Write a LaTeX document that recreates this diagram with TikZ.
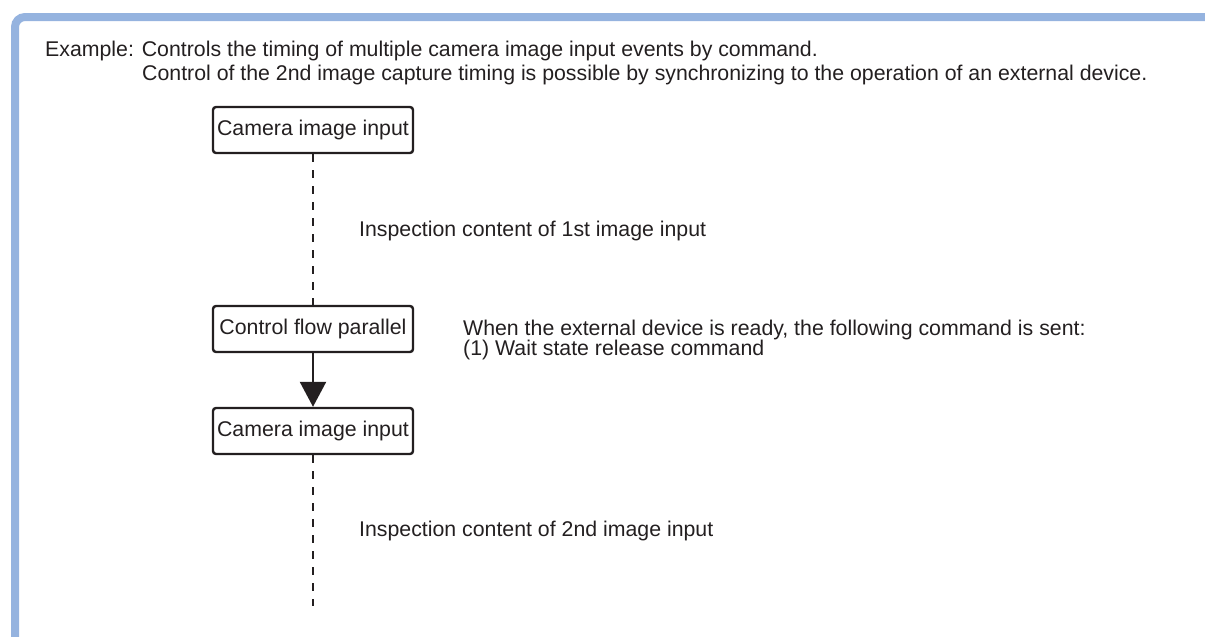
\documentclass[tikz,border=0pt]{standalone}
\usepackage{fontspec}
\setmainfont{Liberation Sans}
\usetikzlibrary{arrows.meta}
\definecolor{frameblue}{HTML}{95B3DF}
\definecolor{ink}{HTML}{231F20}
\tikzset{
  stepbox/.style={draw=ink, line width=2.4pt, rounded corners=3pt, minimum width=200pt, minimum height=46pt, inner sep=0pt, text=ink, font=\fontsize{21.3}{24}\selectfont},
  lbl/.style={anchor=base west, inner sep=0pt, text=ink, font=\fontsize{21.3}{24}\selectfont},
  dashconn/.style={draw=ink, line width=2.6pt, dash pattern=on 8pt off 8pt},
}
\begin{document}
\begin{tikzpicture}[x=1pt,y=-1pt]
\useasboundingbox (0,0) rectangle (1205,637);
\begin{scope}
\clip (0,0) rectangle (1205,637);
\draw[frameblue, line width=8pt, rounded corners=10pt] (15,700) -- (15,17) -- (1300,17);
\end{scope}
\node[lbl] (h1) at (45,56) {Example: Controls the timing of multiple camera image input events by command.};
\node[lbl] (h2) at (142,80) {Control of the 2nd image capture timing is possible by synchronizing to the operation of an external device.};
\node[stepbox] (b1) at (313,130) {Camera image input};
\node[stepbox] (b2) at (313,329) {Control flow parallel};
\node[stepbox] (b3) at (313,431) {Camera image input};
\coordinate (end) at (313,606);
\draw[dashconn] (b1.south) -- (b2.north);
\draw[dashconn] (b3.south) -- (end);
\draw[ink, line width=2.4pt, -{Triangle[length=25pt,width=26pt]}] (b2.south) -- (b3.north);
\node[lbl] (t1) at (359,236) {Inspection content of 1st image input};
\node[lbl] (t2) at (463,335) {When the external device is ready, the following command is sent:};
\node[lbl] (t3) at (463,355) {(1) Wait state release command};
\node[lbl] (t4) at (359,536) {Inspection content of 2nd image input};
\end{tikzpicture}
\end{document}
